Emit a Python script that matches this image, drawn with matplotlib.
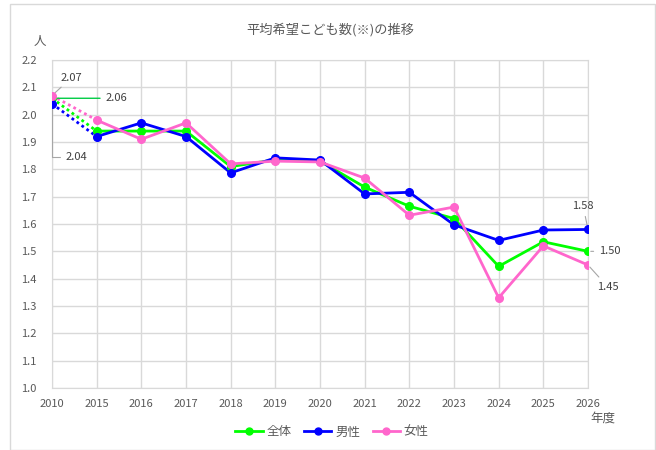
import matplotlib
matplotlib.use("Agg")
import matplotlib.pyplot as plt
from matplotlib.patches import Rectangle

plt.rcParams['font.family'] = ['Noto Sans CJK JP', 'DejaVu Sans']

years = ["2010", "2015", "2016", "2017", "2018", "2019", "2020",
         "2021", "2022", "2023", "2024", "2025", "2026"]
zentai = [2.06, 1.94, 1.94, 1.94, 1.81, 1.835, 1.83, 1.735, 1.665, 1.62, 1.445, 1.535, 1.50]
dansei = [2.04, 1.92, 1.97, 1.92, 1.787, 1.842, 1.834, 1.71, 1.716, 1.597, 1.54, 1.578, 1.58]
josei = [2.07, 1.98, 1.91, 1.97, 1.82, 1.83, 1.827, 1.768, 1.632, 1.662, 1.33, 1.52, 1.45]

series = [("全体", zentai, "#00ff00"), ("男性", dansei, "#0000ff"), ("女性", josei, "#ff66cc")]
yticks = [1.0, 1.1, 1.2, 1.3, 1.4, 1.5, 1.6, 1.7, 1.8, 1.9, 2.0, 2.1, 2.2]

fig = plt.figure(figsize=(6.56, 4.5), dpi=100)
ax = fig.add_axes([52/656, 1-388/450, (588-52)/656, (388-60)/450])

x = list(range(len(years)))
tc = "#595959"
for name, vals, col in series:
    ax.plot(x[:2], vals[:2], color=col, lw=2, ls=(0, (1, 1.2)), zorder=3)
    ax.plot(x[1:], vals[1:], color=col, lw=2, zorder=3)
    ax.plot(x, vals, color=col, lw=0, marker='o', ms=5.5, zorder=4)

ax.set_xlim(0, len(years) - 1)
ax.set_ylim(1.0, 2.2)
ax.set_xticks(x)
ax.set_xticklabels(years)
ax.set_yticks(yticks)
ax.set_yticklabels([f"{v:.1f}" for v in yticks])
ax.tick_params(length=0, labelsize=8, colors=tc)
ax.tick_params(axis='x', pad=8)
ax.tick_params(axis='y', pad=11)
ax.grid(True, color="#d9d9d9", lw=1)
for s in ax.spines.values():
    s.set_color("#d9d9d9")
ax.set_axisbelow(True)

# annotations
ann_kw = dict(fontsize=8, color="#404040")
lc = "#a6a6a6"
ax.annotate(f"{josei[0]:.2f}", xy=(x[0], josei[0]), xytext=(0.2, 2.125),
            arrowprops=dict(arrowstyle='-', color=lc, lw=0.8), **ann_kw)
ax.annotate(f"{zentai[0]:.2f}", xy=(x[0], zentai[0]), xytext=(1.2, zentai[0]),
            va='center', arrowprops=dict(arrowstyle='-', color="#00cc44", lw=1), **ann_kw)
ax.annotate(f"{dansei[0]:.2f}", xy=(x[0], dansei[0]), xytext=(0.3, 1.845),
            va='center',
            arrowprops=dict(arrowstyle='-', color=lc, lw=0.8,
                            connectionstyle="angle,angleA=0,angleB=90,rad=0"), **ann_kw)
n = len(years) - 1
ax.annotate(f"{dansei[n]:.2f}", xy=(x[n], dansei[n]), xytext=(x[n] - 0.35, 1.655),
            arrowprops=dict(arrowstyle='-', color=lc, lw=0.8), **ann_kw)
ax.annotate(f"{zentai[n]:.2f}", xy=(x[n], zentai[n]), xytext=(x[n] + 0.25, zentai[n]),
            va='center', arrowprops=dict(arrowstyle='-', color=lc, lw=0.8), **ann_kw)
ax.annotate(f"{josei[n]:.2f}", xy=(x[n], josei[n]), xytext=(x[n] + 0.2, 1.37),
            va='center', arrowprops=dict(arrowstyle='-', color=lc, lw=0.8), **ann_kw)

fig.text(330/656, 1-30/450, "平均希望こども数(※)の推移", ha='center', va='center',
         fontsize=9.5, color=tc)
fig.text(40/656, 1-42/450, "人", ha='center', va='center', fontsize=9, color=tc)
fig.text(603/656, 1-418/450, "年度", ha='center', va='center', fontsize=9, color=tc)

handles = [plt.Line2D([], [], color=c, lw=2, marker='o', ms=5) for _, _, c in series]
fig.legend(handles, [s[0] for s in series], loc='center', bbox_to_anchor=(332/656, 1-432/450),
           ncol=3, frameon=False, fontsize=9, handlelength=2.2, handletextpad=0.3,
           columnspacing=1.0, labelcolor=tc)

fig.patches.append(Rectangle((10/656, 0.0), 645/656, 1-4/450, transform=fig.transFigure,
                             fill=False, edgecolor="#d9d9d9", lw=1))

fig.savefig("out.png", dpi=100)
